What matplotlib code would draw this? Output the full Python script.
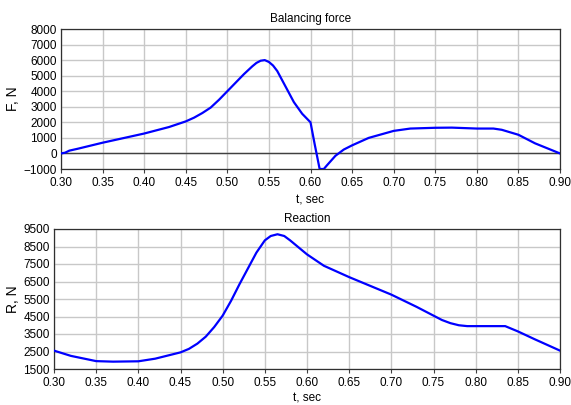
import matplotlib
matplotlib.use("Agg")
import matplotlib.pyplot as plt

# balancing force, N
t_force = [0.300, 0.305, 0.31, 0.32, 0.35, 0.40, 0.43, 0.45, 0.46, 0.47,
           0.48, 0.49, 0.50, 0.51, 0.52, 0.53, 0.535, 0.54, 0.545, 0.55,
           0.555, 0.56, 0.57, 0.58, 0.59, 0.60, 0.605, 0.611, 0.616, 0.62,
           0.63, 0.64, 0.65, 0.67, 0.70, 0.72, 0.75, 0.77, 0.80, 0.82,
           0.83, 0.85, 0.87, 0.90]
force = [0, 50, 180, 300, 690, 1280, 1700, 2060, 2300, 2600,
         2950, 3450, 4000, 4550, 5100, 5600, 5820, 5960, 6000, 5880,
         5650, 5300, 4300, 3300, 2550, 2000, 600, -1000, -1000, -750,
         -150, 250, 520, 1000, 1450, 1600, 1650, 1660, 1600, 1600,
         1520, 1200, 650, 0]

# reaction, N
t_react = [0.30, 0.32, 0.35, 0.37, 0.40, 0.42, 0.45, 0.46, 0.47, 0.48,
           0.49, 0.50, 0.51, 0.52, 0.53, 0.54, 0.55, 0.557, 0.565, 0.573,
           0.58, 0.60, 0.62, 0.65, 0.67, 0.70, 0.73, 0.75, 0.76, 0.77,
           0.78, 0.79, 0.835, 0.85, 0.87, 0.90]
reaction = [2550, 2250, 1950, 1920, 1940, 2090, 2450, 2650, 2950, 3350,
            3900, 4550, 5400, 6350, 7250, 8150, 8850, 9100, 9200, 9100,
            8850, 8050, 7400, 6750, 6350, 5750, 5050, 4550, 4300, 4120,
            4000, 3950, 3950, 3650, 3200, 2550]

x_ticks = [0.30, 0.35, 0.40, 0.45, 0.50, 0.55, 0.60, 0.65, 0.70, 0.75, 0.80, 0.85, 0.90]
f_ticks = list(range(-1000, 8001, 1000))
r_ticks = list(range(1500, 9501, 1000))

plt.rcParams['font.family'] = ['Liberation Sans', 'DejaVu Sans']
plt.rcParams['font.size'] = 8.5

fig = plt.figure(figsize=(5.71, 4.05), dpi=100)
ax1 = fig.add_axes([61 / 571, 1 - 169 / 405, 499 / 571, 140 / 405])
ax2 = fig.add_axes([54 / 571, 1 - 369 / 405, 506 / 571, 140 / 405])


def style_axes(ax, yticks, xpad):
    ax.set_xlim(0.30, 0.90)
    ax.set_ylim(yticks[0], yticks[-1])
    ax.set_xticks(x_ticks)
    ax.set_xticklabels([f"{v:.2f}" for v in x_ticks])
    ax.set_yticks(yticks)
    ax.grid(True, color='#c8c8c8', linewidth=1.0)
    ax.set_axisbelow(True)
    ax.tick_params(axis='x', length=3, width=0.8, color='#404040', pad=3)
    ax.tick_params(axis='y', length=0, pad=3)
    for s in ax.spines.values():
        s.set_color('#303030')
        s.set_linewidth(0.9)
    ax.set_xlabel("t, sec", labelpad=xpad)


style_axes(ax1, f_ticks, 4)
ax1.axhline(0, color='#404040', linewidth=1.0, zorder=2)
ax1.plot(t_force, force, color='#0000ff', linewidth=1.6, zorder=3)
ax1.set_title("Balancing force", fontsize=8.5, pad=5)
ax1.set_ylabel("F, N", fontsize=10)
ax1.yaxis.set_label_coords(-0.082, 0.5)

style_axes(ax2, r_ticks, 2)
ax2.plot(t_react, reaction, color='#0000ff', linewidth=1.6, zorder=3)
ax2.set_title("Reaction", fontsize=8.5, pad=5)
ax2.set_ylabel("R, N", fontsize=10)
ax2.yaxis.set_label_coords(-0.067, 0.5)

fig.savefig("out.png", dpi=100)
